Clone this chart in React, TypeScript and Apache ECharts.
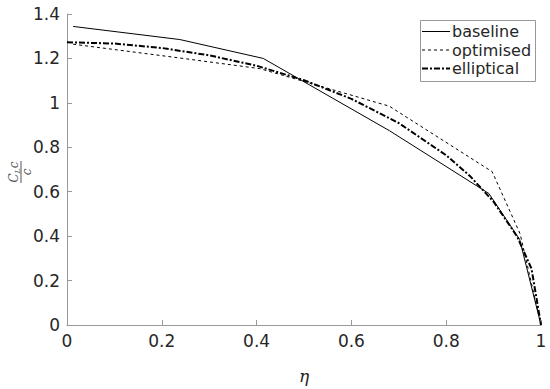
import React, { useEffect, useRef } from "react";
import * as echarts from "echarts";

const baselineEta = [0.013, 0.238, 0.414, 0.68, 0.89, 0.955, 1];
const baselineVal = [1.344, 1.285, 1.2, 0.875, 0.592, 0.385, 0];

const optimisedEta = [0.013, 0.245, 0.407, 0.68, 0.897, 0.956, 1];
const optimisedVal = [1.264, 1.2, 1.154, 0.985, 0.69, 0.41, 0];

const ellipticalEta = [0, 0.1, 0.2, 0.3, 0.4, 0.5, 0.6, 0.7, 0.8, 0.85, 0.9, 0.95, 0.98, 1];
const ellipticalVal = [1.273, 1.267, 1.247, 1.214, 1.167, 1.102, 1.018, 0.909, 0.764, 0.671, 0.555, 0.397, 0.253, 0];

const legendNames = ["baseline", "optimised", "elliptical"];

const zip = (a: number[], b: number[]) => a.map((v, i) => [v, b[i]]);

export default function App() {
  const ref = useRef<HTMLDivElement>(null);
  useEffect(() => {
    document.body.style.margin = "0";
    if (!ref.current) return;
    const chart = echarts.init(ref.current, null, { renderer: "svg" });
    const font = "DejaVu Sans";
    const legendStyles = [
      { lineWidth: 1, lineDash: null as any },
      { lineWidth: 1, lineDash: [3, 3] },
      { lineWidth: 2, lineDash: [6, 2, 2, 2] },
    ];
    const legendItems: any[] = [
      {
        type: "rect",
        shape: { x: 420.5, y: 20.5, width: 115, height: 61 },
        style: { fill: "#fff", stroke: "#999", lineWidth: 1 },
        z: 10,
      },
    ];
    legendNames.forEach((n, i) => {
      const y = 31.5 + i * 18.5;
      legendItems.push({
        type: "line",
        shape: { x1: 422, y1: y, x2: 450, y2: y },
        style: { stroke: "#000", lineWidth: legendStyles[i].lineWidth, lineDash: legendStyles[i].lineDash },
        z: 11,
      });
      legendItems.push({
        type: "text",
        x: 452,
        y: y,
        style: { text: n, font: `16px '${font}'`, fill: "#262626", verticalAlign: "middle" },
        z: 11,
      });
    });
    chart.setOption({
      animation: false,
      grid: { left: 67, right: 9, top: 14, bottom: 57, containLabel: false },
      xAxis: {
        type: "value",
        min: 0,
        max: 1,
        interval: 0.2,
        name: "η",
        nameLocation: "middle",
        nameGap: 42,
        nameTextStyle: { fontFamily: "DejaVu Serif", fontStyle: "italic", fontSize: 17, color: "#262626" },
        axisLine: { show: true, lineStyle: { color: "#999", width: 1 } },
        axisTick: { show: true, inside: true, length: 5, lineStyle: { color: "#999" } },
        axisLabel: { fontFamily: font, fontSize: 17, color: "#262626", margin: 7 },
        splitLine: { show: false },
      },
      yAxis: {
        type: "value",
        min: 0,
        max: 1.4,
        interval: 0.2,
        axisLine: { show: true, lineStyle: { color: "#999", width: 1 } },
        axisTick: { show: true, inside: true, length: 5, lineStyle: { color: "#999" } },
        axisLabel: { fontFamily: font, fontSize: 17, color: "#262626", margin: 7 },
        splitLine: { show: false },
      },
      series: [
        {
          name: legendNames[0],
          type: "line",
          data: zip(baselineEta, baselineVal),
          showSymbol: false,
          symbol: "none",
          lineStyle: { color: "#000", width: 1 },
        },
        {
          name: legendNames[1],
          type: "line",
          data: zip(optimisedEta, optimisedVal),
          showSymbol: false,
          symbol: "none",
          lineStyle: { color: "#000", width: 1, type: [3, 3] },
        },
        {
          name: legendNames[2],
          type: "line",
          data: zip(ellipticalEta, ellipticalVal),
          showSymbol: false,
          symbol: "none",
          lineStyle: { color: "#000", width: 2, type: [6, 2, 2, 2] },
        },
      ],
      graphic: [
        ...legendItems,
        {
          type: "group",
          x: 20,
          y: 172,
          rotation: Math.PI / 2,
          children: [
            {
              type: "text",
              x: 0,
              y: -6,
              style: {
                text: "{c|C}{s|L}{c|c}",
                align: "center",
                verticalAlign: "middle",
                rich: {
                  c: { fontFamily: "DejaVu Serif", fontStyle: "italic", fontSize: 12, fill: "#555" },
                  s: { fontFamily: "DejaVu Serif", fontStyle: "italic", fontSize: 8, fill: "#555", padding: [6, 0, 0, 0] },
                },
              },
            },
            {
              type: "line",
              shape: { x1: -11, y1: 1, x2: 11, y2: 1 },
              style: { stroke: "#555", lineWidth: 1 },
            },
            {
              type: "text",
              x: 0,
              y: 7,
              style: {
                text: "c",
                align: "center",
                verticalAlign: "middle",
                font: "italic 12px 'DejaVu Serif'",
                fill: "#555",
              },
            },
          ],
        },
      ],
    });
    return () => chart.dispose();
  }, []);
  return <div ref={ref} style={{ width: 550, height: 389 }} />;
}
